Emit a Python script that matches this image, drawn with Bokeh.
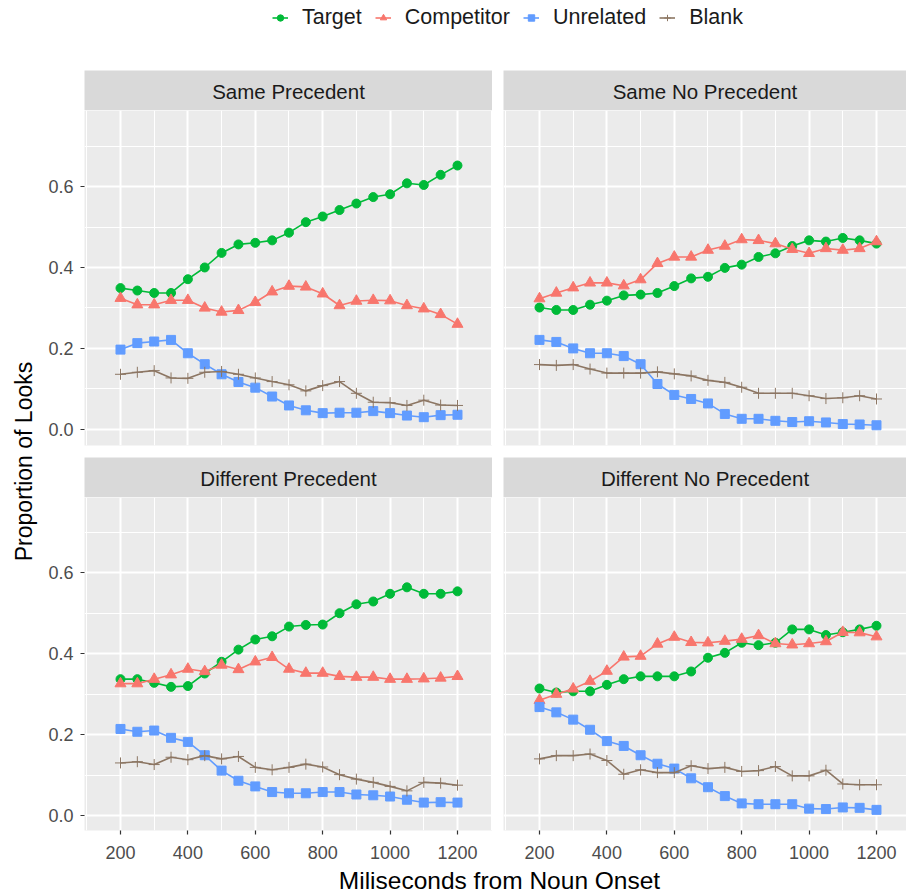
import math
from bokeh.plotting import figure
from bokeh.models import (Range1d, FixedTicker, Grid, PrintfTickFormatter,
                          Legend, LegendItem, ColumnDataSource)
from bokeh.layouts import column, row
from bokeh.embed import file_html
from bokeh.resources import INLINE
from bokeh.core.properties import value

# ---------------- data ----------------
ms = [200, 250, 300, 350, 400, 450, 500, 550, 600, 650, 700,
      750, 800, 850, 900, 950, 1000, 1050, 1100, 1150, 1200]

series_names = ["Target", "Competitor", "Unrelated", "Blank"]
panel_titles = ["Same Precedent", "Same No Precedent",
                "Different Precedent", "Different No Precedent"]

sp_target = [0.349, 0.343, 0.337, 0.337, 0.371, 0.400, 0.436, 0.457, 0.461, 0.467, 0.486,
             0.512, 0.526, 0.542, 0.558, 0.574, 0.581, 0.608, 0.604, 0.629, 0.652]
sp_comp = [0.324, 0.308, 0.308, 0.319, 0.319, 0.300, 0.290, 0.294, 0.314, 0.340, 0.354,
           0.352, 0.335, 0.306, 0.317, 0.319, 0.318, 0.306, 0.298, 0.284, 0.260]
sp_unrel = [0.197, 0.213, 0.217, 0.221, 0.188, 0.161, 0.136, 0.117, 0.103, 0.081, 0.059,
            0.047, 0.040, 0.041, 0.041, 0.045, 0.040, 0.034, 0.030, 0.035, 0.036]
sp_blank = [0.136, 0.141, 0.145, 0.127, 0.126, 0.141, 0.143, 0.136, 0.127, 0.118, 0.110,
            0.095, 0.108, 0.118, 0.089, 0.067, 0.066, 0.059, 0.072, 0.060, 0.059]

snp_target = [0.301, 0.295, 0.295, 0.308, 0.318, 0.331, 0.333, 0.337, 0.354, 0.373, 0.377,
              0.399, 0.407, 0.426, 0.435, 0.453, 0.467, 0.464, 0.473, 0.467, 0.459]
snp_comp = [0.323, 0.337, 0.350, 0.362, 0.362, 0.355, 0.370, 0.410, 0.426, 0.426, 0.443,
            0.453, 0.469, 0.467, 0.459, 0.445, 0.435, 0.447, 0.443, 0.447, 0.464]
snp_unrel = [0.221, 0.216, 0.200, 0.188, 0.188, 0.181, 0.161, 0.112, 0.085, 0.075, 0.064,
             0.038, 0.026, 0.026, 0.021, 0.018, 0.020, 0.017, 0.013, 0.012, 0.010]
snp_blank = [0.160, 0.158, 0.160, 0.149, 0.139, 0.139, 0.139, 0.142, 0.137, 0.132, 0.121,
             0.116, 0.104, 0.089, 0.089, 0.089, 0.083, 0.076, 0.078, 0.083, 0.075]

dp_target = [0.337, 0.337, 0.328, 0.318, 0.320, 0.351, 0.380, 0.410, 0.435, 0.443, 0.467,
             0.471, 0.472, 0.500, 0.522, 0.529, 0.548, 0.564, 0.548, 0.548, 0.554]
dp_comp = [0.326, 0.326, 0.337, 0.348, 0.362, 0.356, 0.372, 0.361, 0.380, 0.391, 0.362,
           0.352, 0.352, 0.344, 0.342, 0.342, 0.337, 0.337, 0.338, 0.340, 0.344]
dp_unrel = [0.214, 0.207, 0.210, 0.192, 0.182, 0.149, 0.111, 0.086, 0.072, 0.058, 0.055,
            0.055, 0.058, 0.058, 0.052, 0.050, 0.047, 0.039, 0.032, 0.033, 0.032]
dp_blank = [0.130, 0.133, 0.126, 0.144, 0.138, 0.148, 0.140, 0.146, 0.119, 0.113, 0.119,
            0.127, 0.120, 0.101, 0.090, 0.082, 0.072, 0.061, 0.082, 0.080, 0.075]

dnp_target = [0.314, 0.304, 0.307, 0.307, 0.323, 0.337, 0.344, 0.344, 0.344, 0.356, 0.390,
              0.402, 0.427, 0.421, 0.427, 0.460, 0.460, 0.446, 0.453, 0.460, 0.469]
dnp_comp = [0.285, 0.300, 0.313, 0.332, 0.357, 0.392, 0.394, 0.424, 0.441, 0.428, 0.427,
            0.431, 0.436, 0.445, 0.425, 0.422, 0.425, 0.430, 0.453, 0.452, 0.442]
dnp_unrel = [0.268, 0.255, 0.237, 0.212, 0.184, 0.172, 0.149, 0.128, 0.116, 0.092, 0.070,
             0.048, 0.030, 0.028, 0.028, 0.028, 0.017, 0.016, 0.020, 0.019, 0.014]
dnp_blank = [0.140, 0.148, 0.148, 0.152, 0.136, 0.102, 0.113, 0.106, 0.106, 0.123, 0.116,
             0.119, 0.109, 0.111, 0.121, 0.098, 0.098, 0.112, 0.078, 0.076, 0.076]

x_major = [200, 400, 600, 800, 1000, 1200]
x_minor = [100, 300, 500, 700, 900, 1100, 1300]
y_major = [0.0, 0.2, 0.4, 0.6]
y_minor = [0.1, 0.3, 0.5, 0.7]

x_title = "Miliseconds from Noun Onset"
y_title = "Proportion of Looks"

# ---------------- style ----------------
FONT = "Liberation Sans"
BG = "#EBEBEB"
STRIP = "#D9D9D9"
colors = ["#00BA38", "#F8766D", "#619CFF", "#8C7663"]
markers = ["circle", "triangle", "square", "cross"]
msizes = [9, 11, 9, 11]

panel_data = [
    [sp_target, sp_comp, sp_unrel, sp_blank],
    [snp_target, snp_comp, snp_unrel, snp_blank],
    [dp_target, dp_comp, dp_unrel, dp_blank],
    [dnp_target, dnp_comp, dnp_unrel, dnp_blank],
]

YT_W = 38
LEFT_B = 46
GAP = 11
FW_L = 408
FW_R = 403
X0 = 93.2
XPX = (1303.9 - 93.2) / FW_L
X_END_L = 1303.9
X_END_R = X0 + FW_R * XPX

LEG_H = 70
STRIP_H = 40
TOP_FH = 335
MID_GAP = 12
BOT_FH = 333
AX_B = 36
XT_H = 28


def strip_grids(p):
    p.center = [r for r in p.center if not isinstance(r, Grid)]


def make_panel(idx, fw, x_end, left_axis, bottom_axis, fh, y0, y1, mb_bottom):
    p = figure(frame_width=fw, frame_height=fh,
               x_range=Range1d(X0, x_end), y_range=Range1d(y0, y1),
               output_backend="svg", toolbar_location=None,
               x_axis_location="below" if bottom_axis else None,
               y_axis_location="left" if left_axis else None,
               min_border_left=LEFT_B if left_axis else GAP,
               min_border_right=0, min_border_top=0,
               min_border_bottom=mb_bottom,
               background_fill_color=BG, border_fill_color="white",
               outline_line_color=None)
    strip_grids(p)
    xg = Grid(dimension=0, ticker=FixedTicker(ticks=x_major, minor_ticks=x_minor),
              grid_line_color="white", grid_line_width=2,
              minor_grid_line_color="white", minor_grid_line_width=1)
    yg = Grid(dimension=1, ticker=FixedTicker(ticks=y_major, minor_ticks=y_minor),
              grid_line_color="white", grid_line_width=2,
              minor_grid_line_color="white", minor_grid_line_width=1)
    p.add_layout(xg, "center")
    p.add_layout(yg, "center")

    for ax in (p.xaxis if bottom_axis else []):
        ax.ticker = FixedTicker(ticks=x_major, minor_ticks=[])
    for ax in (p.yaxis if left_axis else []):
        ax.ticker = FixedTicker(ticks=y_major, minor_ticks=[])
        ax.formatter = PrintfTickFormatter(format="%.1f")
    for ax in list(p.xaxis) + list(p.yaxis):
        ax.axis_line_color = None
        ax.major_tick_line_color = "#333333"
        ax.major_tick_line_width = 1.2
        ax.major_tick_out = 4
        ax.major_tick_in = 0
        ax.minor_tick_line_color = None
        ax.major_label_text_font = FONT
        ax.major_label_text_font_size = "18px"
        ax.major_label_text_color = "#4D4D4D"
    for ax in p.xaxis:
        ax.major_label_standoff = 11
    for ax in p.yaxis:
        ax.major_label_standoff = 7

    for s in range(4):
        src = ColumnDataSource(dict(x=ms, y=panel_data[idx][s]))
        p.line("x", "y", source=src, line_color=colors[s], line_width=1.6)
        if markers[s] == "cross":
            p.scatter("x", "y", source=src, marker="cross", size=msizes[s],
                      line_color=colors[s], line_width=1)
        else:
            p.scatter("x", "y", source=src, marker=markers[s], size=msizes[s],
                      fill_color=colors[s], line_color=colors[s])
    return p


def make_strip(title, fw, left):
    p = figure(frame_width=fw, frame_height=STRIP_H,
               x_range=Range1d(0, 1), y_range=Range1d(0, 1),
               output_backend="svg", toolbar_location=None,
               x_axis_location=None, y_axis_location=None,
               min_border_left=LEFT_B if left else GAP, min_border_right=0,
               min_border_top=0, min_border_bottom=0,
               background_fill_color=STRIP, border_fill_color="white",
               outline_line_color=None)
    strip_grids(p)
    p.text(x=[0.5], y=[0.48], text=[title], text_font=value(FONT),
           text_font_size="20.5px", text_color="#1A1A1A",
           text_align="center", text_baseline="middle")
    return p


tl = make_panel(0, FW_L, X_END_L, True, False, TOP_FH, -0.040, 0.788, MID_GAP)
tr = make_panel(1, FW_R, X_END_R, False, False, TOP_FH, -0.040, 0.788, MID_GAP)
bl = make_panel(2, FW_L, X_END_L, True, True, BOT_FH, -0.037, 0.786, AX_B)
br = make_panel(3, FW_R, X_END_R, False, True, BOT_FH, -0.037, 0.786, AX_B)

s_tl = make_strip(panel_titles[0], FW_L, True)
s_tr = make_strip(panel_titles[1], FW_R, False)
s_bl = make_strip(panel_titles[2], FW_L, True)
s_br = make_strip(panel_titles[3], FW_R, False)

TOTAL_W = YT_W + LEFT_B + FW_L + GAP + FW_R
GRID_H = STRIP_H + TOP_FH + MID_GAP + STRIP_H + BOT_FH + AX_B

# legend figure
leg = figure(width=TOTAL_W, height=LEG_H, x_range=Range1d(0, 1), y_range=Range1d(0, 1),
             output_backend="svg", toolbar_location=None,
             x_axis_location=None, y_axis_location=None,
             min_border=0, outline_line_color=None,
             background_fill_color="white", border_fill_color="white")
strip_grids(leg)
items = []
for s in range(4):
    src = ColumnDataSource(dict(x=[-5, -4], y=[-5, -5]))
    lr = leg.line("x", "y", source=src, line_color=colors[s], line_width=1.6)
    if markers[s] == "cross":
        sr = leg.scatter("x", "y", source=src, marker="cross", size=msizes[s],
                         line_color=colors[s], line_width=1)
    else:
        sr = leg.scatter("x", "y", source=src, marker=markers[s], size=msizes[s] - 1,
                         fill_color=colors[s], line_color=colors[s])
    items.append(LegendItem(label=series_names[s], renderers=[lr, sr]))
legend = Legend(items=items, orientation="horizontal", location=(272, LEG_H - 18 - 12),
                glyph_width=16, glyph_height=17, label_standoff=14, spacing=13,
                padding=0, margin=0, border_line_color=None,
                background_fill_alpha=0,
                label_text_font=FONT, label_text_font_size="21.5px",
                label_text_color="#1A1A1A")
leg.add_layout(legend, "center")

# y title
yt = figure(width=YT_W, height=GRID_H, x_range=Range1d(0, YT_W), y_range=Range1d(0, GRID_H),
            output_backend="svg", toolbar_location=None,
            x_axis_location=None, y_axis_location=None,
            min_border=0, outline_line_color=None,
            background_fill_color="white", border_fill_color="white")
strip_grids(yt)
yt.text(x=[23], y=[GRID_H - (461 - LEG_H)], text=[y_title], angle=math.pi / 2,
        text_font=value(FONT), text_font_size="23px", text_color="#000000",
        text_align="center", text_baseline="middle")

# x title
xt = figure(width=TOTAL_W, height=XT_H, x_range=Range1d(0, TOTAL_W), y_range=Range1d(0, XT_H),
            output_backend="svg", toolbar_location=None,
            x_axis_location=None, y_axis_location=None,
            min_border=0, outline_line_color=None,
            background_fill_color="white", border_fill_color="white")
strip_grids(xt)
xt.text(x=[499], y=[XT_H - 14], text=[x_title],
        text_font=value(FONT), text_font_size="24.5px", text_color="#000000",
        text_align="center", text_baseline="middle")

grid = column(row(s_tl, s_tr), row(tl, tr), row(s_bl, s_br), row(bl, br))
page = column(leg, row(yt, grid), xt)

open("out.html", "w").write(file_html(page, INLINE))
